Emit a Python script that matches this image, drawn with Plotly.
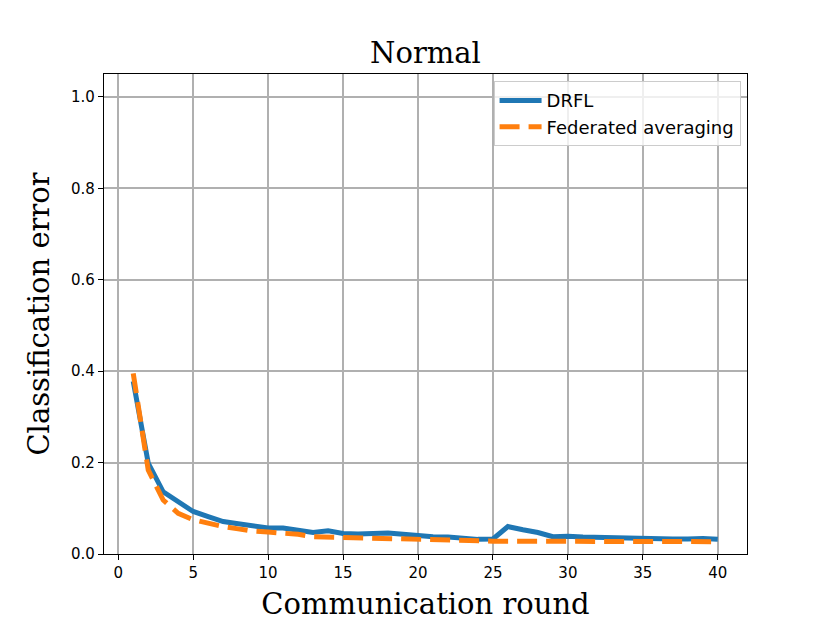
import plotly.graph_objects as go

rounds = list(range(1, 41))

drfl = [0.378, 0.199, 0.136, 0.113, 0.093, 0.082, 0.071, 0.066, 0.061, 0.057,
        0.057, 0.052, 0.047, 0.051, 0.045, 0.044, 0.044, 0.046, 0.043, 0.040,
        0.038, 0.037, 0.035, 0.032, 0.033, 0.060, 0.053, 0.047, 0.038, 0.039,
        0.037, 0.036, 0.036, 0.035, 0.034, 0.033, 0.033, 0.033, 0.034, 0.032]

fedavg = [0.395, 0.184, 0.118, 0.089, 0.075, 0.067, 0.060, 0.055, 0.050, 0.048,
          0.046, 0.043, 0.038, 0.037, 0.036, 0.035, 0.034, 0.033, 0.032, 0.031,
          0.031, 0.030, 0.030, 0.029, 0.028, 0.028, 0.028, 0.028, 0.028, 0.028,
          0.027, 0.027, 0.027, 0.027, 0.027, 0.027, 0.027, 0.027, 0.027, 0.027]

x_ticks = [0, 5, 10, 15, 20, 25, 30, 35, 40]
y_ticks = [0.0, 0.2, 0.4, 0.6, 0.8, 1.0]

fig = go.Figure()
fig.add_trace(go.Scatter(
    x=rounds,
    y=drfl,
    mode='lines',
    name='DRFL',
    line=dict(color='#1f77b4', width=5)
))
fig.add_trace(go.Scatter(
    x=rounds,
    y=fedavg,
    mode='lines',
    name='Federated averaging',
    line=dict(color='#ff7f0e', width=5, dash='20px,9px')
))

serif = "DejaVu Serif"
sans = "DejaVu Sans"

# page body adds an 8px offset, so margins are shifted to compensate
fig.update_layout(
    width=830,
    height=623,
    paper_bgcolor='white',
    plot_bgcolor='white',
    margin=dict(l=96, r=91, t=66, b=77, autoexpand=False),
    title=dict(text='Normal', x=0.5, xref='paper', xanchor='center',
               y=0.928, yref='container', yanchor='middle',
               font=dict(family=serif, size=29, color='black')),
    legend=dict(
        x=0.99, y=0.985, xanchor='right', yanchor='top',
        bgcolor='rgba(255,255,255,0.8)', bordercolor='#cccccc', borderwidth=1,
        font=dict(family=sans, size=18, color='black'),
        itemwidth=42,
        tracegroupgap=2
    ),
    font=dict(family=sans, color='black')
)

fig.update_xaxes(
    range=[-0.95, 41.95],
    tickvals=x_ticks,
    showgrid=True, gridcolor='#b0b0b0', gridwidth=1.5,
    showline=True, linecolor='black', linewidth=1.3, mirror=True,
    ticks='outside', ticklen=5, tickcolor='black', tickwidth=1.2,
    tickfont=dict(family=sans, size=15, color='black'),
    zeroline=False, automargin=False,
    title=dict(text='Communication round', standoff=12,
               font=dict(family=serif, size=29, color='black'))
)
fig.update_yaxes(
    range=[0, 1.05],
    tickvals=y_ticks,
    tickformat='.1f',
    showgrid=True, gridcolor='#b0b0b0', gridwidth=1.5,
    showline=True, linecolor='black', linewidth=1.3, mirror=True,
    ticks='outside', ticklen=5, tickcolor='black', tickwidth=1.2,
    tickfont=dict(family=sans, size=15, color='black'),
    zeroline=False, automargin=False,
    title=dict(text='Classification error', standoff=12,
               font=dict(family=serif, size=29, color='black'))
)

fig.write_html("out.html")
